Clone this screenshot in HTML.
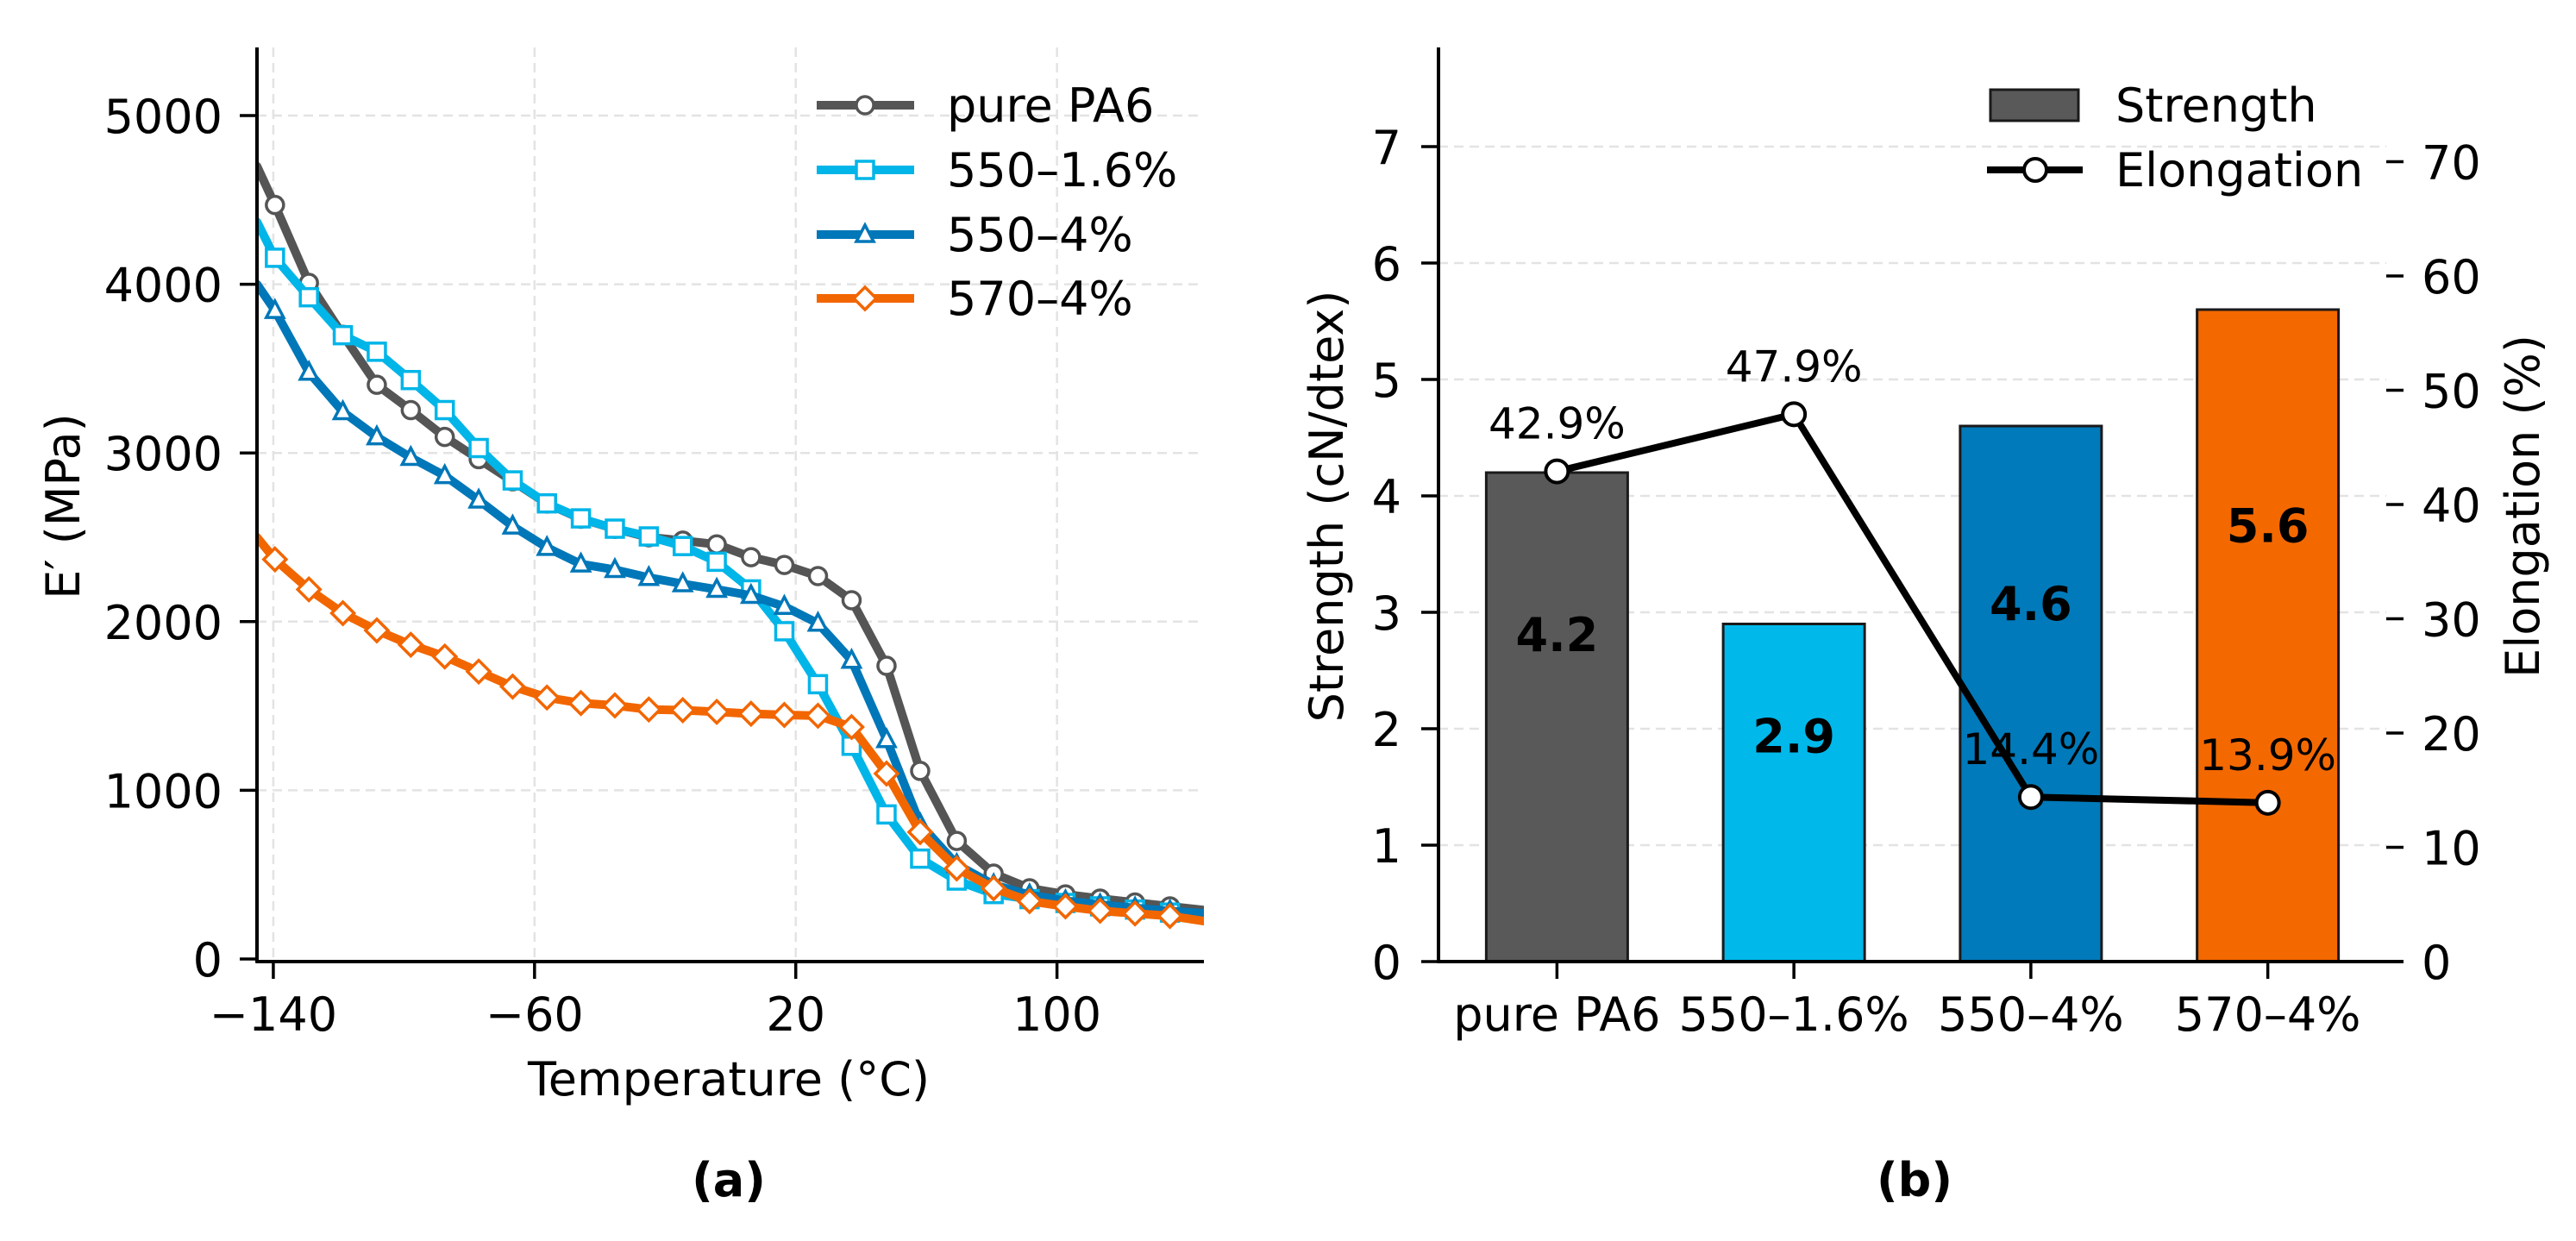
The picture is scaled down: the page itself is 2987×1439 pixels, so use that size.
<!DOCTYPE html>
<html><head><meta charset="utf-8">
<style>
html,body{margin:0;padding:0;background:#fff;}
svg{display:block;font-family:"DejaVu Sans","Liberation Sans",sans-serif;}
</style></head>
<body>
<svg id="fig" width="2987" height="1439" viewBox="0 0 2987 1439" xmlns="http://www.w3.org/2000/svg">
<g id="pa"></g>
<g id="pb"></g>
</svg>
<script>
// ---------- Panel (a) data ----------
const temps = [-145,-139.5,-129.1,-118.7,-108.3,-97.9,-87.5,-77.1,-66.7,-56.2,-45.8,-35.4,-25.0,-14.6,-4.2,6.3,16.5,26.8,37.1,47.8,58.1,69.3,80.6,91.6,102.6,113.2,123.9,134.6,145];
const ePure = [4700,4470,4008,3700,3404,3254,3095,2963,2832,2700,2610,2550,2500,2480,2458,2382,2336,2270,2127,1738,1115,700,506,419,383,358,335,312,290];
const e550_16 = [4370,4157,3923,3698,3600,3432,3254,3029,2837,2701,2612,2551,2505,2448,2355,2191,1943,1629,1264,857,595,465,385,355,332,312,293,275,260];
const e550_4 = [4000,3844,3478,3244,3095,2973,2865,2720,2566,2439,2341,2308,2261,2224,2191,2155,2090,1990,1770,1300,800,560,440,380,345,322,302,285,270];
const e570_4 = [2500,2369,2191,2050,1948,1863,1793,1704,1615,1550,1517,1503,1479,1475,1465,1454,1447,1442,1375,1099,752,537,419,343,312,286,270,255,225];
const xTicksA = [-140,-60,20,100];
const xTickLabelsA = ["\u2212140","\u221260","20","100"];
const yTicksA = [0,1000,2000,3000,4000,5000];
const seriesNames = ["pure PA6","550\u20131.6%","550\u20134%","570\u20134%"];

// ---------- Panel (b) data ----------
const categories = ["pure PA6","550\u20131.6%","550\u20134%","570\u20134%"];
const strength = [4.2,2.9,4.6,5.6];
const elongation = [42.9,47.9,14.4,13.9];
const elongLabels = ["42.9%","47.9%","14.4%","13.9%"];
const yTicksB = [0,1,2,3,4,5,6,7];
const yTicksB2 = [0,10,20,30,40,50,60,70];

const NS = "http://www.w3.org/2000/svg";
function mk(parent, tag, attrs, text){
  const e = document.createElementNS(NS, tag);
  for (const k in attrs) e.setAttribute(k, attrs[k]);
  if (text !== undefined) e.textContent = text;
  parent.appendChild(e);
  return e;
}
const FS = 54;

// ===== Panel a =====
const pa = document.getElementById('pa');
const aL=298, aR=1396, aB=1115, aTop=55;
const xA = t => aL + (t - (-145)) / 290 * (aR - aL);
const yA = v => 1112 - v * 0.1956;

xTicksA.forEach(t=>{
  const g = mk(pa,'line',{x1:xA(t),x2:xA(t),y1:aTop,y2:aB,stroke:'#e3e3e3','stroke-width':2.5,'stroke-dasharray':'11 7'});
  
  
});
yTicksA.forEach(v=>{
  if(v===0) return;
  const g = mk(pa,'line',{x1:aL,x2:aR,y1:yA(v),y2:yA(v),stroke:'#e3e3e3','stroke-width':2.5,'stroke-dasharray':'11 7'});
  
  
});

const colors = ['#555555','#00B5E8','#0077B8','#F26600'];
const markers = ['circle','square','triangle','diamond'];
const allSeries = [ePure,e550_16,e550_4,e570_4];

function drawMarker(g, type, cx, cy, color, size){
  let m;
  if(type==='circle') m = mk(g,'circle',{cx:cx,cy:cy,r:size,fill:'#fff',stroke:color,'stroke-width':3.5});
  else if(type==='square') m = mk(g,'rect',{x:cx-size,y:cy-size,width:2*size,height:2*size,fill:'#fff',stroke:color,'stroke-width':3.5});
  else if(type==='triangle') m = mk(g,'polygon',{points:`${cx},${cy-size*1.1} ${cx-size},${cy+size*0.8} ${cx+size},${cy+size*0.8}`,fill:'#fff',stroke:color,'stroke-width':3.5});
  else m = mk(g,'polygon',{points:`${cx},${cy-size*1.3} ${cx+size*1.3},${cy} ${cx},${cy+size*1.3} ${cx-size*1.3},${cy}`,fill:'#fff',stroke:color,'stroke-width':3.5});
  return m;
}

const clip = mk(pa,'clipPath',{id:'clipA'});
mk(clip,'rect',{x:aL,y:aTop,width:aR-aL,height:aB-aTop});
const plotA = mk(pa,'g',{'clip-path':'url(#clipA)'});


allSeries.forEach((vals,si)=>{
  const g = mk(plotA,'g',{});
  
  
  const pts = vals.map((v,i)=>xA(temps[i]).toFixed(1)+','+yA(v).toFixed(1)).join(' ');
  const pl = mk(g,'polyline',{points:pts,fill:'none',stroke:colors[si],'stroke-width':10,'stroke-linejoin':'round','stroke-linecap':'round'});
  
  
  vals.forEach((v,i)=>{
    if(i===0||i===vals.length-1) return;
    const m = drawMarker(g, markers[si], xA(temps[i]), yA(v), colors[si], 10);
    
    
  });
});

let ax = mk(pa,'line',{x1:aL,x2:aL,y1:aTop,y2:aB+1.5,stroke:'#000','stroke-width':4});
 
ax = mk(pa,'line',{x1:aL-1.5,x2:aR,y1:aB,y2:aB,stroke:'#000','stroke-width':4});
 
xTicksA.forEach((t,i)=>{
  mk(pa,'line',{x1:xA(t),x2:xA(t),y1:aB,y2:aB+20,stroke:'#000','stroke-width':3.5});
  const tl = mk(pa,'text',{x:xA(t),y:1195,'font-size':FS,'text-anchor':'middle',fill:'#000'},xTickLabelsA[i]);
  
  
});
yTicksA.forEach(v=>{
  mk(pa,'line',{x1:aL-20,x2:aL,y1:yA(v),y2:yA(v),stroke:'#000','stroke-width':3.5});
  const tl = mk(pa,'text',{x:258,y:yA(v)+20,'font-size':FS,'text-anchor':'end',fill:'#000'},String(v));
  
  
});
let t = mk(pa,'text',{x:0,y:0,'font-size':FS,'text-anchor':'middle',transform:'translate(92,587) rotate(-90)'},'E\u2032 (MPa)');
 
t = mk(pa,'text',{x:845,y:1270,'font-size':FS,'text-anchor':'middle'},'Temperature (\u00b0C)');
 
t = mk(pa,'text',{x:845,y:1387,'font-size':FS,'font-weight':'bold','text-anchor':'middle'},'(a)');
 

const legA = mk(pa,'g',{});
 
const rowsA=[122,197,272,346];
seriesNames.forEach((n,i)=>{
  const g = mk(legA,'g',{});
  
  
  mk(g,'line',{x1:947,x2:1060,y1:rowsA[i],y2:rowsA[i],stroke:colors[i],'stroke-width':10});
  drawMarker(g,markers[i],1003,rowsA[i],colors[i],10);
  mk(g,'text',{x:1098,y:rowsA[i]+19,'font-size':FS},n);
});

// ===== Panel b =====
const pb = document.getElementById('pb');
const bL=1668, bR=2767, bB=1115, bTop=55;
const xB = i => bL + (i + 0.5) / 4 * (bR - bL);
const yB = v => bB - v * 135;
const yB2 = v => bB - v * 13.25;
const barW = 164;
const barColors = ['#595959','#00B9EA','#007ABA','#F46800'];

yTicksB.forEach(v=>{
  if(v===0) return;
  const g = mk(pb,'line',{x1:bL,x2:bR,y1:yB(v),y2:yB(v),stroke:'#e3e3e3','stroke-width':2.5,'stroke-dasharray':'11 7'});
  
  
});
strength.forEach((s,i)=>{
  const r = mk(pb,'rect',{x:xB(i)-barW/2,y:yB(s),width:barW,height:bB-yB(s),fill:barColors[i],stroke:'#1a1a1a','stroke-width':3});
  
  
});
strength.forEach((s,i)=>{
  const l = mk(pb,'text',{x:xB(i),y:yB(s*0.67)+20,'font-size':FS,'font-weight':'bold','text-anchor':'middle'},s.toFixed(1));
  
  
});
const pts = elongation.map((v,i)=>xB(i)+','+yB2(v)).join(' ');
const el = mk(pb,'polyline',{points:pts,fill:'none',stroke:'#000','stroke-width':8,'stroke-linejoin':'round'});


elongation.forEach((v,i)=>{
  const c = mk(pb,'circle',{cx:xB(i),cy:yB2(v),r:13,fill:'#fff',stroke:'#000','stroke-width':4});
  
  
  const l = mk(pb,'text',{x:xB(i),y:yB2(v)-38,'font-size':50,'text-anchor':'middle'},elongLabels[i]);
  
  
});
ax = mk(pb,'line',{x1:bL,x2:bL,y1:bTop,y2:bB+1.5,stroke:'#000','stroke-width':4});
 
ax = mk(pb,'line',{x1:bL-1.5,x2:bR+20,y1:bB,y2:bB,stroke:'#000','stroke-width':4});
 
categories.forEach((c,i)=>{
  mk(pb,'line',{x1:xB(i),x2:xB(i),y1:bB,y2:bB+20,stroke:'#000','stroke-width':3.5});
  const l = mk(pb,'text',{x:xB(i),y:1195,'font-size':FS,'text-anchor':'middle'},c);
  
  
});
yTicksB.forEach(v=>{
  mk(pb,'line',{x1:bL-20,x2:bL,y1:yB(v),y2:yB(v),stroke:'#000','stroke-width':3.5});
  const l = mk(pb,'text',{x:1625,y:yB(v)+20,'font-size':FS,'text-anchor':'end'},String(v));
  
  
});
yTicksB2.forEach(v=>{
  mk(pb,'line',{x1:bR,x2:bR+20,y1:yB2(v),y2:yB2(v),stroke:'#000','stroke-width':3.5});
  const l = mk(pb,'text',{x:2808,y:yB2(v)+20,'font-size':FS,'text-anchor':'start'},String(v));
  
  
});
t = mk(pb,'text',{x:0,y:0,'font-size':FS,'text-anchor':'middle',transform:'translate(1557,587) rotate(-90)'},'Strength (cN/dtex)');
 
t = mk(pb,'text',{x:0,y:0,'font-size':FS,'text-anchor':'middle',transform:'translate(2944,587) rotate(-90)'},'Elongation (%)');
 
t = mk(pb,'text',{x:2220,y:1387,'font-size':FS,'font-weight':'bold','text-anchor':'middle'},'(b)');
 

const legB = mk(pb,'g',{});
 
let g1 = mk(legB,'g',{});
 
mk(g1,'rect',{x:2308,y:104,width:102,height:36,fill:'#595959',stroke:'#1a1a1a','stroke-width':3});
mk(g1,'text',{x:2453,y:141,'font-size':FS},'Strength');
let g2 = mk(legB,'g',{});
 
mk(g2,'line',{x1:2304,x2:2415,y1:197,y2:197,stroke:'#000','stroke-width':8});
mk(g2,'circle',{cx:2360,cy:197,r:13,fill:'#fff',stroke:'#000','stroke-width':4});
mk(g2,'text',{x:2453,y:216,'font-size':FS},'Elongation');
</script>
</body></html>
